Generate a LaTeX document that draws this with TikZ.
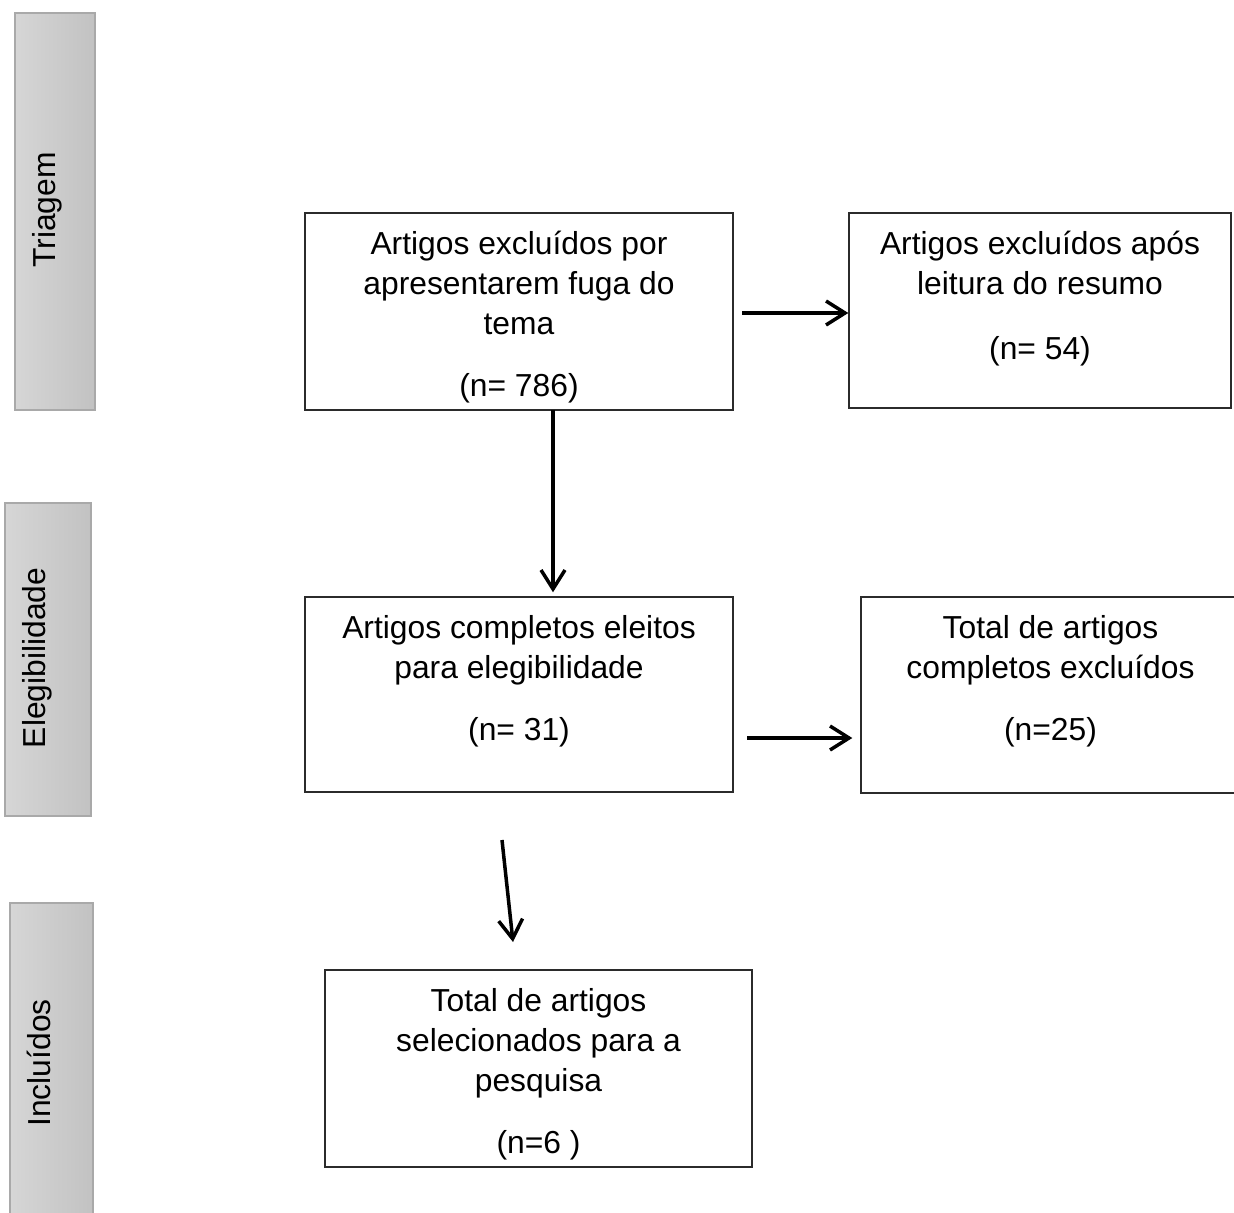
\documentclass[tikz,border=0pt]{standalone}
\usepackage{fontspec}
\setmainfont{Liberation Sans}
\usetikzlibrary{arrows.meta}
\definecolor{fbline}{HTML}{2B2B2B}
\definecolor{fbbarL}{HTML}{D6D6D6}
\definecolor{fbbarR}{HTML}{C2C2C2}
\definecolor{fbbarE}{HTML}{A9A9A9}

\begin{document}
\begin{tikzpicture}[x=0.02cm,y=-0.02cm,
    fbbox/.style={draw=fbline,line width=0.03cm,rectangle,inner sep=0pt},
    fbtxt/.style={anchor=north,align=center,inner sep=0pt,font=\fontsize{18.1pt}{22.8pt}\selectfont},
    fbside/.style={anchor=base,rotate=90,inner sep=0pt,font=\fontsize{18.1pt}{22.8pt}\selectfont},
    fbarr/.style={-{Straight Barb[length=0.38cm,width=0.48cm,line width=0.07cm]},line width=0.07cm}]
  \useasboundingbox (0,0) rectangle (1234,1213);
  % phase bars on the left
  \foreach \xa/\ya/\xb/\yb in {15/13/95/410,5/503/91/816,10/903/93/1220}{
    \shade[left color=fbbarL,right color=fbbarR] (\xa,\ya) rectangle (\xb,\yb);
    \draw[fbbarE,line width=0.03cm] (\xa,\ya) rectangle (\xb,\yb);}
  \node[fbside] (ph1) at (55,210) {Triagem};
  \node[fbside] (ph2) at (45,658) {Elegibilidade};
  \node[fbside] (ph3) at (51,1063) {Incluídos};
  % boxes
  \node[fbbox,minimum width=8.56cm,minimum height=3.94cm] (excl) at (519,311.5) {};
  \node[fbbox,minimum width=7.64cm,minimum height=3.9cm] (resum) at (1040,310.5) {};
  \node[fbbox,minimum width=8.56cm,minimum height=3.9cm] (elig) at (519,694.5) {};
  \node[fbbox,minimum width=7.58cm,minimum height=3.92cm] (compl) at (1050.5,695) {};
  \node[fbbox,minimum width=8.54cm,minimum height=3.94cm] (incl) at (538.5,1068.5) {};
  \node[fbtxt] (excl-t) at ([yshift=-0.37cm]excl.north) {Artigos excluídos por\\apresentarem fuga do\\tema\\[12.5pt](n= 786)};
  \node[fbtxt] (resum-t) at ([yshift=-0.37cm]resum.north) {Artigos excluídos após\\leitura do resumo\\[14pt](n= 54)};
  \node[fbtxt] (elig-t) at ([yshift=-0.37cm]elig.north) {Artigos completos eleitos\\para elegibilidade\\[12.5pt](n= 31)};
  \node[fbtxt] (compl-t) at ([yshift=-0.37cm]compl.north) {Total de artigos\\completos excluídos\\[12.5pt](n=25)};
  \node[fbtxt] (incl-t) at ([yshift=-0.37cm]incl.north) {Total de artigos\\selecionados para a\\pesquisa\\[12.5pt](n=6 )};
  % connectors
  \coordinate (a1) at (742,313);
  \coordinate (a2) at (553,410);
  \coordinate (a3) at (747,738);
  \coordinate (a4s) at (502,840);
  \coordinate (a4e) at (513,942);
  \draw[fbarr] (a1) -- (a1 -| resum.west);
  \draw[fbarr,shorten >=0.08cm] (a2) -- (a2 |- elig.north);
  \draw[fbarr,shorten >=0.16cm] (a3) -- (a3 -| compl.west);
  \draw[fbarr] (a4s) -- (a4e);
\end{tikzpicture}
\end{document}
